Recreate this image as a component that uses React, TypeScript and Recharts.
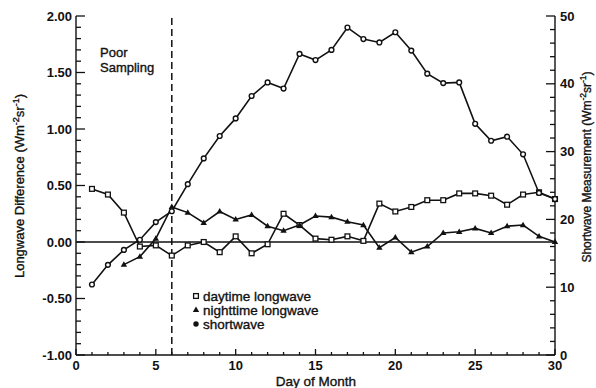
import React from 'react';
import {
  ComposedChart,
  Line,
  XAxis,
  YAxis,
  ReferenceLine
} from 'recharts';

const days = [1, 2, 3, 4, 5, 6, 7, 8, 9, 10, 11, 12, 13, 14, 15, 16, 17, 18, 19, 20, 21, 22, 23, 24, 25, 26, 27, 28, 29, 30];

// left axis, Wm-2sr-1
const daytime = [0.47, 0.42, 0.26, -0.04, -0.03, -0.12, -0.03, 0.0, -0.09, 0.05, -0.1, -0.02, 0.25, 0.15, 0.03, 0.02, 0.05, 0.01, 0.34, 0.27, 0.31, 0.37, 0.37, 0.43, 0.43, 0.41, 0.33, 0.42, 0.44, 0.38];
const nighttime = [null, null, -0.2, -0.13, 0.03, 0.31, 0.26, 0.17, 0.27, 0.2, 0.24, 0.14, 0.1, 0.15, 0.23, 0.22, 0.18, 0.15, -0.05, 0.04, -0.09, -0.04, 0.08, 0.09, 0.12, 0.08, 0.14, 0.15, 0.05, 0.0];

// right axis, Wm-2sr-1
const shortwave = [10.4, 13.3, 15.5, 17.0, 19.6, 21.2, 25.2, 29.0, 32.3, 34.9, 38.2, 40.2, 39.3, 44.4, 43.5, 45.0, 48.3, 46.6, 46.1, 47.6, 44.9, 41.5, 40.1, 40.2, 34.1, 31.6, 32.2, 29.6, 23.9, 23.0];

const dayTicks = Array.from({ length: 31 }, (_, i) => i);
const leftTicks = Array.from({ length: 31 }, (_, i) => Math.round((-1 + i * 0.1) * 10) / 10);
const rightTicks = Array.from({ length: 26 }, (_, i) => i * 2);

const data = days.map((d, i) => ({
  day: d,
  daytime: daytime[i],
  nighttime: nighttime[i],
  shortwave: shortwave[i]
}));

const FONT = '"Liberation Sans", Arial, Helvetica, sans-serif';
const INK = '#111';
// thin outline so the regular face reads as heavy as the scanned original
const heavy = { stroke: INK, strokeWidth: 0.35 };

const LeftTick = ({ x, y, payload }: any) => {
  const v = payload.value;
  const major = Math.abs(v * 2 - Math.round(v * 2)) < 1e-6;
  return (
    <g>
      <line x1={x} y1={y} x2={x + (major ? 9 : 5)} y2={y} stroke={INK} strokeWidth={1.3} />
      {major && (
        <text x={x - 4} y={y} dy="0.36em" textAnchor="end" fontSize={13} fontWeight="bold" fontFamily={FONT} fill={INK}>
          {v.toFixed(2)}
        </text>
      )}
    </g>
  );
};

const RightTick = ({ x, y, payload }: any) => {
  const v = payload.value;
  const major = v % 10 === 0;
  return (
    <g>
      <line x1={x} y1={y} x2={x - (major ? 9 : 5)} y2={y} stroke={INK} strokeWidth={1.3} />
      {major && (
        <text x={x + 5} y={y} dy="0.36em" textAnchor="start" fontSize={13} fontWeight="bold" fontFamily={FONT} fill={INK}>
          {v}
        </text>
      )}
    </g>
  );
};

const BottomTick = ({ x, y, payload }: any) => {
  const v = payload.value;
  const major = v % 5 === 0;
  return (
    <g>
      <line x1={x} y1={y} x2={x} y2={y - (major ? 6 : 3)} stroke={INK} strokeWidth={1.3} />
      {major && (
        <text x={x} y={y + 15} textAnchor="middle" fontSize={13} fontWeight="bold" fontFamily={FONT} fill={INK}>
          {v}
        </text>
      )}
    </g>
  );
};

const TopTick = ({ x, y, payload }: any) => {
  const major = payload.value % 5 === 0;
  return <line x1={x} y1={y} x2={x} y2={y + (major ? 7 : 3)} stroke={INK} strokeWidth={1.3} />;
};

const SquareDot = ({ cx, cy, index }: any) => {
  if (cx == null || cy == null) return <g key={index} />;
  return <rect key={index} x={cx - 2.4} y={cy - 2.4} width={4.8} height={4.8} fill="#fff" stroke={INK} strokeWidth={1.3} />;
};

const TriangleDot = ({ cx, cy, index }: any) => {
  if (cx == null || cy == null) return <g key={index} />;
  return <polygon key={index} points={`${cx},${cy - 3.4} ${cx + 3.2},${cy + 2.1} ${cx - 3.2},${cy + 2.1}`} fill={INK} />;
};

const CircleDot = ({ cx, cy, index }: any) => {
  if (cx == null || cy == null) return <g key={index} />;
  return <circle key={index} cx={cx} cy={cy} r={2.4} fill="#fff" stroke={INK} strokeWidth={1.4} />;
};

const Overlay = () => (
  <svg width={596} height={388} style={{ position: 'absolute', left: 0, top: 0, pointerEvents: 'none' }} fontFamily={FONT} fill={INK}>
    <text transform="translate(24,186) rotate(-90)" textAnchor="middle" fontSize={13} {...heavy}>
      Longwave Difference (Wm<tspan dy={-5} fontSize={9}>-2</tspan><tspan dy={5}>sr</tspan><tspan dy={-5} fontSize={9}>-1</tspan><tspan dy={5}>)</tspan>
    </text>
    <text transform="translate(591,167) rotate(-90)" textAnchor="middle" fontSize={12} {...heavy}>
      Shortwave Measurement (Wm<tspan dy={-5} fontSize={8.5}>-2</tspan><tspan dy={5}>sr</tspan><tspan dy={-5} fontSize={8.5}>-1</tspan><tspan dy={5}>)</tspan>
    </text>
    <text x={316} y={386} textAnchor="middle" fontSize={13.5} {...heavy}>Day of Month</text>

    <text x={100} y={57} fontSize={13} {...heavy}>Poor</text>
    <text x={100} y={72} fontSize={13} {...heavy}>Sampling</text>

    {/* legend */}
    <rect x={193.6} y={293.6} width={4.8} height={4.8} fill="#fff" stroke={INK} strokeWidth={1.3} />
    <text x={203} y={300.5} fontSize={13.5} {...heavy}>daytime longwave</text>
    <polygon points="196,306.6 199.2,312.1 192.8,312.1" fill={INK} />
    <text x={203} y={314.5} fontSize={13.5} {...heavy}>nighttime longwave</text>
    <circle cx={196} cy={324} r={2.7} fill={INK} />
    <text x={203} y={328.5} fontSize={13.5} {...heavy}>shortwave</text>
  </svg>
);

export default function App() {
  return (
    <div style={{ position: 'absolute', left: 0, top: 0, width: 596, height: 388, background: '#fff' }}>
      <ComposedChart width={596} height={388} data={data} margin={{ top: 16, right: 0, bottom: 0, left: 0 }}>
        <XAxis
          xAxisId="bottom"
          dataKey="day"
          type="number"
          domain={[0, 30]}
          ticks={dayTicks}
          interval={0}
          height={33}
          tickSize={0}
          tickMargin={0}
          tickLine={false}
          axisLine={{ stroke: INK, strokeWidth: 1.4 }}
          tick={<BottomTick />}
        />
        <XAxis
          xAxisId="top"
          orientation="top"
          dataKey="day"
          type="number"
          domain={[0, 30]}
          ticks={dayTicks}
          interval={0}
          height={0}
          tickSize={0}
          tickMargin={0}
          tickLine={false}
          axisLine={{ stroke: INK, strokeWidth: 1.4 }}
          tick={<TopTick />}
        />
        <YAxis
          yAxisId="left"
          type="number"
          domain={[-1, 2]}
          ticks={leftTicks}
          interval={0}
          width={76}
          tickSize={0}
          tickMargin={0}
          tickLine={false}
          axisLine={{ stroke: INK, strokeWidth: 1.4 }}
          tick={<LeftTick />}
        />
        <YAxis
          yAxisId="right"
          orientation="right"
          type="number"
          domain={[0, 50]}
          ticks={rightTicks}
          interval={0}
          width={41}
          tickSize={0}
          tickMargin={0}
          tickLine={false}
          axisLine={{ stroke: INK, strokeWidth: 1.4 }}
          tick={<RightTick />}
        />
        <ReferenceLine yAxisId="left" xAxisId="bottom" y={0} stroke={INK} strokeWidth={1.3} />
        <ReferenceLine yAxisId="left" xAxisId="bottom" x={6} stroke={INK} strokeWidth={1.5} strokeDasharray="7 4" />
        <Line xAxisId="bottom" yAxisId="left" type="linear" dataKey="daytime" stroke={INK} strokeWidth={1.6} dot={SquareDot} isAnimationActive={false} />
        <Line xAxisId="bottom" yAxisId="left" type="linear" dataKey="nighttime" stroke={INK} strokeWidth={1.6} dot={TriangleDot} isAnimationActive={false} />
        <Line xAxisId="bottom" yAxisId="right" type="linear" dataKey="shortwave" stroke={INK} strokeWidth={1.6} dot={CircleDot} isAnimationActive={false} />
        <Line xAxisId="top" yAxisId="left" type="linear" dataKey="daytime" stroke="none" dot={false} legendType="none" isAnimationActive={false} />
      </ComposedChart>
      <Overlay />
    </div>
  );
}
